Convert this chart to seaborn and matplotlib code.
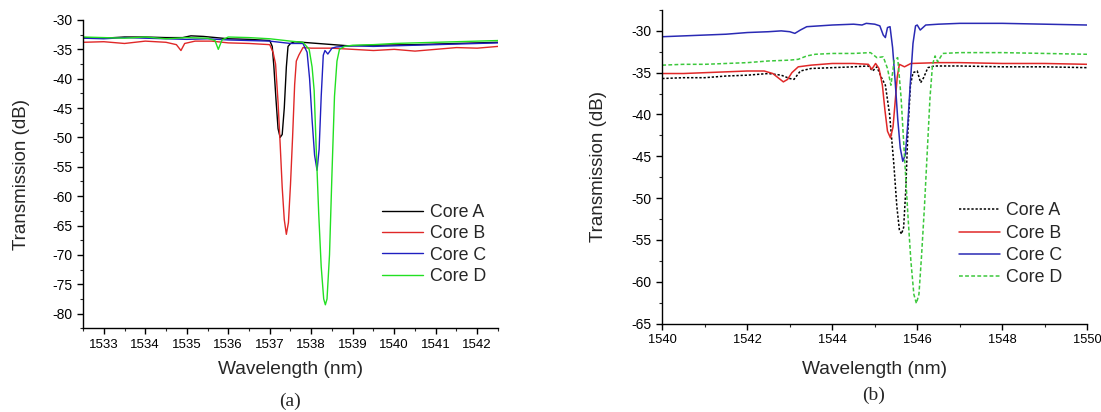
import numpy as np
import pandas as pd
import matplotlib
matplotlib.use('Agg')
import matplotlib.pyplot as plt
import seaborn as sns
from matplotlib.ticker import MultipleLocator

# ---- panel (a) data ----
a_wl = [1532.5, 1533.0, 1533.5, 1534.0, 1534.5, 1534.9, 1535.1, 1535.4, 1536.0, 1536.5, 1537.0, 1537.06,
        1537.1, 1537.15, 1537.2, 1537.25, 1537.3, 1537.35, 1537.4, 1537.44, 1537.5, 1537.6, 1538.9, 1539.5,
        1540.5, 1541.5, 1542.5]
a_db = [-33.0, -33.1, -32.9, -32.9, -33.0, -33.0, -32.7, -32.8, -33.2, -33.3, -33.5, -34.5,
        -38.0, -43.5, -48.5, -50.0, -49.5, -45.0, -38.0, -34.5, -34.0, -33.7, -34.4, -34.3,
        -34.2, -34.0, -33.8]

b_wl = [1532.5, 1533.0, 1533.5, 1534.0, 1534.5, 1534.75, 1534.86, 1534.95, 1535.2, 1535.6, 1536.0, 1536.5,
        1537.0, 1537.08, 1537.14, 1537.2, 1537.25, 1537.3, 1537.35, 1537.4, 1537.45, 1537.5, 1537.55,
        1537.6, 1537.64, 1537.7, 1537.8, 1538.0, 1538.5, 1539.0, 1539.5, 1540.0, 1540.5, 1541.0, 1541.5,
        1542.0, 1542.5]
b_db = [-33.8, -33.7, -34.0, -33.6, -33.8, -34.2, -35.2, -34.0, -33.6, -33.6, -33.9, -34.0,
        -34.2, -35.5, -37.5, -44.0, -51.0, -58.5, -64.0, -66.5, -64.5, -58.0, -50.0,
        -41.0, -37.0, -36.0, -34.7, -34.8, -34.8, -35.0, -35.2, -35.0, -35.3, -35.0, -34.7,
        -34.8, -34.5]

c_wl = [1532.5, 1533.0, 1533.5, 1534.0, 1534.5, 1535.0, 1535.5, 1536.0, 1536.5, 1537.0, 1537.5, 1537.8,
        1537.9, 1537.96, 1538.02, 1538.08, 1538.14, 1538.19, 1538.24, 1538.29, 1538.33, 1538.4, 1538.5,
        1538.6, 1539.0, 1539.5, 1540.0, 1540.5, 1541.0, 1541.5, 1542.0, 1542.5]
c_db = [-33.1, -33.2, -33.0, -33.1, -33.2, -33.3, -33.2, -33.4, -33.5, -33.6, -34.0, -34.0,
        -35.5, -40.0, -47.0, -53.0, -55.6, -52.0, -43.0, -36.0, -35.2, -35.8, -34.8,
        -34.6, -34.4, -34.5, -34.4, -34.3, -34.2, -34.1, -34.0, -33.9]

d_wl = [1532.5, 1533.0, 1533.5, 1534.0, 1534.5, 1535.0, 1535.5, 1535.68, 1535.76, 1535.85, 1536.0, 1536.5,
        1537.0, 1537.5, 1537.8, 1537.95, 1538.02, 1538.07, 1538.12, 1538.18, 1538.24, 1538.3, 1538.34,
        1538.38, 1538.44, 1538.5, 1538.56, 1538.62, 1538.68, 1538.8, 1539.0, 1539.5, 1540.0, 1540.5,
        1541.0, 1541.5, 1542.0, 1542.5]
d_db = [-32.9, -33.0, -33.1, -32.9, -33.2, -33.0, -33.1, -33.5, -35.0, -33.4, -32.9, -33.0,
        -33.2, -33.6, -33.8, -35.0, -38.0, -42.0, -52.0, -63.0, -72.0, -77.5, -78.5,
        -77.5, -70.0, -56.0, -43.0, -37.0, -35.0, -34.5, -34.3, -34.2, -34.0, -33.9,
        -33.8, -33.7, -33.6, -33.5]

# ---- panel (b) data ----
a2_wl = [1540.0, 1540.5, 1541.0, 1541.5, 1542.0, 1542.5, 1542.8, 1543.0, 1543.1, 1543.25, 1543.5, 1544.0,
         1544.5, 1544.85, 1544.95, 1545.05, 1545.15, 1545.25, 1545.35, 1545.45, 1545.52, 1545.58, 1545.63,
         1545.68, 1545.73, 1545.78, 1545.84, 1545.9, 1546.0, 1546.08, 1546.15, 1546.25, 1546.4, 1547.0,
         1548.0, 1549.0, 1550.0]
a2_db = [-35.7, -35.6, -35.6, -35.4, -35.3, -35.1, -35.3, -35.7, -35.8, -34.8, -34.5, -34.4,
         -34.3, -34.2, -34.8, -34.3, -35.5, -36.5, -40.0, -46.0, -51.0, -53.8, -54.3,
         -53.5, -49.0, -42.0, -36.5, -35.0, -34.8, -36.2, -35.6, -34.4, -34.2, -34.2,
         -34.3, -34.3, -34.4]

b2_wl = [1540.0, 1540.5, 1541.0, 1541.5, 1542.0, 1542.4, 1542.6, 1542.75, 1542.85, 1542.95, 1543.05, 1543.2,
         1543.5, 1544.0, 1544.5, 1544.85, 1544.93, 1545.02, 1545.1, 1545.18, 1545.24, 1545.3, 1545.37,
         1545.43, 1545.48, 1545.53, 1545.58, 1545.7, 1545.85, 1546.5, 1547.0, 1548.0, 1549.0, 1550.0]
b2_db = [-35.1, -35.1, -35.0, -34.9, -34.8, -34.8, -35.1, -35.7, -36.1, -35.8, -35.0, -34.3,
         -34.1, -33.9, -33.9, -34.0, -34.6, -33.9, -34.5, -36.5, -39.5, -42.0, -42.8,
         -41.5, -38.5, -35.5, -34.0, -34.3, -33.9, -33.8, -33.8, -33.9, -33.9, -34.0]

c2_wl = [1540.0, 1540.5, 1541.0, 1541.5, 1542.0, 1542.5, 1542.8, 1543.0, 1543.12, 1543.25, 1543.4, 1543.7,
         1544.0, 1544.5, 1544.7, 1544.8, 1545.0, 1545.12, 1545.2, 1545.25, 1545.3, 1545.36, 1545.42,
         1545.48, 1545.54, 1545.6, 1545.66, 1545.72, 1545.78, 1545.84, 1545.9, 1545.96, 1546.0, 1546.07,
         1546.2, 1546.5, 1547.0, 1548.0, 1549.0, 1550.0]
c2_db = [-30.7, -30.6, -30.5, -30.4, -30.2, -30.1, -30.0, -30.1, -30.3, -29.9, -29.5, -29.4,
         -29.3, -29.2, -29.3, -29.1, -29.2, -29.4, -30.5, -30.8, -29.6, -29.5, -32.0,
         -36.0, -40.5, -44.0, -45.6, -44.8, -41.0, -36.0, -31.5, -29.4, -29.3, -29.9,
         -29.3, -29.2, -29.1, -29.1, -29.2, -29.3]

d2_wl = [1540.0, 1540.5, 1541.0, 1541.5, 1542.0, 1542.5, 1543.0, 1543.2, 1543.4, 1543.6, 1544.0, 1544.5,
         1544.9, 1545.05, 1545.2, 1545.3, 1545.38, 1545.46, 1545.54, 1545.62, 1545.7, 1545.78, 1545.85,
         1545.92, 1545.98, 1546.04, 1546.1, 1546.17, 1546.24, 1546.3, 1546.36, 1546.42, 1546.48, 1546.6,
         1547.0, 1548.0, 1549.0, 1550.0]
d2_db = [-34.1, -34.0, -34.0, -33.9, -33.8, -33.6, -33.5, -33.4, -33.0, -32.8, -32.7, -32.7,
         -32.6, -33.2, -33.1, -34.5, -36.5, -33.5, -33.2, -38.0, -45.0, -52.0, -57.5,
         -61.5, -62.6, -61.5, -57.0, -51.0, -44.0, -38.0, -34.0, -33.0, -33.7, -32.7,
         -32.6, -32.6, -32.7, -32.8]

labels = ['Core A', 'Core B', 'Core C', 'Core D']

sns.set_style('ticks')
plt.rcParams['font.family'] = ['Liberation Sans', 'DejaVu Sans']
plt.rcParams['axes.unicode_minus'] = False

fig = plt.figure(figsize=(11.01, 4.12), dpi=100)
ax1 = fig.add_axes([0.0754, 0.2032, 0.3769, 0.7483])
ax2 = fig.add_axes([0.6015, 0.2148, 0.3860, 0.7610])

# panel (a): all solid lines
left_sets = [(a_wl, a_db, '#000000'), (b_wl, b_db, '#e02828'),
             (c_wl, c_db, '#1f1fc0'), (d_wl, d_db, '#22e022')]
for (wl, db, col), lab in zip(left_sets, labels):
    sns.lineplot(x=wl, y=db, ax=ax1, color=col, lw=1.0, label=lab, estimator=None, sort=False)

# panel (b): A dotted, D dashed
right_sets = [(a2_wl, a2_db, '#000000', (0, (1.5, 1.2))), (b2_wl, b2_db, '#e02828', '-'),
              (c2_wl, c2_db, '#2a2ab4', '-'), (d2_wl, d2_db, '#3cc83c', (0, (2.5, 1.5)))]
for (wl, db, col, ls), lab in zip(right_sets, labels):
    sns.lineplot(x=wl, y=db, ax=ax2, color=col, lw=1.1, linestyle=ls, label=lab,
                 estimator=None, sort=False)

ax1.set_xlim(1532.5, 1542.5)
ax1.set_ylim(-82.5, -30)
ax1.xaxis.set_major_locator(MultipleLocator(1))
ax1.xaxis.set_minor_locator(MultipleLocator(0.5))
ax1.yaxis.set_major_locator(MultipleLocator(5))
ax1.yaxis.set_minor_locator(MultipleLocator(2.5))

ax2.set_xlim(1540, 1550)
ax2.set_ylim(-65, -27.5)
ax2.xaxis.set_major_locator(MultipleLocator(2))
ax2.xaxis.set_minor_locator(MultipleLocator(1))
ax2.yaxis.set_major_locator(MultipleLocator(5))
ax2.yaxis.set_minor_locator(MultipleLocator(2.5))

for ax, xsize in [(ax1, 9.5), (ax2, 9.3)]:
    sns.despine(ax=ax)
    for s in ['left', 'bottom']:
        ax.spines[s].set_linewidth(1.0)
        ax.spines[s].set_color('black')
    ax.tick_params(which='major', direction='out', length=4, width=1.0, colors='black')
    ax.tick_params(which='minor', direction='out', length=2.5, width=0.8)
    ax.tick_params(axis='x', labelsize=xsize)
    ax.tick_params(axis='y', labelsize=10)
    ax.set_xlabel('Wavelength (nm)', fontsize=13.8)
    ax.set_ylabel('Transmission (dB)', fontsize=13.5)

ax1.yaxis.set_label_coords(-0.128, 0.5)
ax1.xaxis.set_label_coords(0.5, -0.106)
ax2.yaxis.set_label_coords(-0.130, 0.5)
ax2.xaxis.set_label_coords(0.5, -0.12)

leg_kw = dict(frameon=False, fontsize=12.8, handlelength=2.3, handletextpad=0.35,
              borderpad=0.2, borderaxespad=0, loc='center left')
ax1.legend(bbox_to_anchor=(0.713, 0.272), labelspacing=0.245, **leg_kw)
ax2.legend(bbox_to_anchor=(0.69, 0.252), labelspacing=0.3, **leg_kw)

fig.text(0.263, 0.025, '(a)', ha='center', va='center', fontsize=14,
         family=['Liberation Serif', 'DejaVu Serif'])
fig.text(0.793, 0.041, '(b)', ha='center', va='center', fontsize=14,
         family=['Liberation Serif', 'DejaVu Serif'])

fig.savefig('out.png', dpi=100)
